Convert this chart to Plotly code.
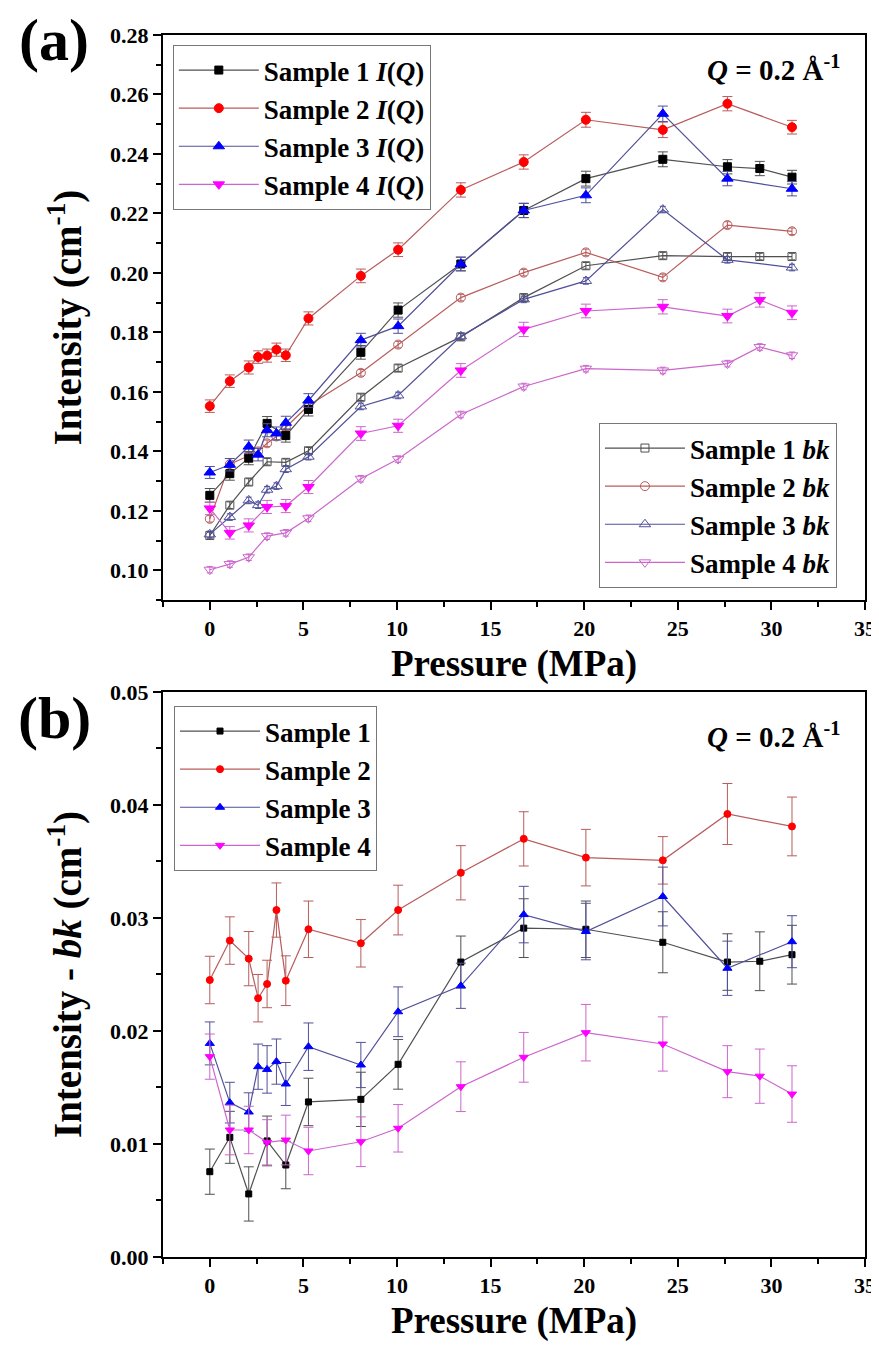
import plotly.graph_objects as go

# ---------------- data ----------------
P_16 = [0, 1.07, 2.08, 2.58, 3.06, 3.56, 4.06, 5.27, 8.07, 10.06, 13.41, 16.77, 20.09, 24.2, 27.65, 31.1]
P_15 = [0, 1.07, 2.08, 3.06, 4.06, 5.27, 8.07, 10.06, 13.41, 16.77, 20.09, 24.2, 27.65, 29.38, 31.1]

# panel (a): I(Q)
s1_iq = [0.1252, 0.1325, 0.1377, 0.1494, 0.1453, 0.1541, 0.1733, 0.1875, 0.2030, 0.2210, 0.2317, 0.2382, 0.2357, 0.2351, 0.2322]
s2_iq = [0.1552, 0.1636, 0.1682, 0.1717, 0.1722, 0.1742, 0.1723, 0.1847, 0.1990, 0.2078, 0.2279, 0.2373, 0.2515, 0.2481, 0.2569, 0.2490]
s3_iq = [0.1329, 0.1355, 0.1416, 0.1389, 0.1471, 0.1460, 0.1496, 0.1571, 0.1774, 0.1821, 0.2030, 0.2210, 0.2261, 0.2535, 0.2317, 0.2283]
s4_iq = [0.1208, 0.1126, 0.1151, 0.1213, 0.1216, 0.1280, 0.1460, 0.1486, 0.1672, 0.1810, 0.1872, 0.1886, 0.1855, 0.1909, 0.1866]
s1_iq_err = [0.0023, 0.0022, 0.0022, 0.0023, 0.0022, 0.0022, 0.0023, 0.0024, 0.0023, 0.0024, 0.0025, 0.0025, 0.0024, 0.0024, 0.0023]
s2_iq_err = [0.0021, 0.0021, 0.0022, 0.0021, 0.0022, 0.0022, 0.0021, 0.0022, 0.0023, 0.0023, 0.0024, 0.0024, 0.0025, 0.0026, 0.0024, 0.0023]
s3_iq_err = [0.0020, 0.0021, 0.0022, 0.0021, 0.0022, 0.0022, 0.0022, 0.0023, 0.0023, 0.0024, 0.0023, 0.0024, 0.0025, 0.0026, 0.0024, 0.0024]
s4_iq_err = [0.0021, 0.0021, 0.0022, 0.0022, 0.0022, 0.0022, 0.0023, 0.0022, 0.0023, 0.0024, 0.0023, 0.0024, 0.0023, 0.0024, 0.0023]

# panel (a): bk
s1_bk = [0.1117, 0.1219, 0.1297, 0.1365, 0.1363, 0.1402, 0.1582, 0.1680, 0.1785, 0.1917, 0.2024, 0.2058, 0.2055, 0.2055, 0.2055]
s2_bk = [0.1173, 0.1357, 0.1385, 0.1400, 0.1427, 0.1450, 0.1481, 0.1554, 0.1664, 0.1759, 0.1917, 0.2001, 0.2069, 0.1985, 0.2161, 0.2140]
s3_bk = [0.1121, 0.1179, 0.1235, 0.1219, 0.1271, 0.1283, 0.1340, 0.1382, 0.1551, 0.1588, 0.1787, 0.1911, 0.1973, 0.2213, 0.2044, 0.2018]
s4_bk = [0.1002, 0.1021, 0.1044, 0.1115, 0.1126, 0.1175, 0.1308, 0.1374, 0.1524, 0.1618, 0.1678, 0.1672, 0.1695, 0.1751, 0.1723]
s1_bk_err = [0.0011, 0.0011, 0.0011, 0.0011, 0.0011, 0.0011, 0.0011, 0.0011, 0.0011, 0.0011, 0.0011, 0.0011, 0.0011, 0.0011, 0.0011]
s2_bk_err = [0.0011, 0.0011, 0.0011, 0.0011, 0.0011, 0.0011, 0.0011, 0.0011, 0.0011, 0.0011, 0.0011, 0.0011, 0.0011, 0.0011, 0.0011, 0.0011]
s3_bk_err = [0.0011, 0.0011, 0.0011, 0.0011, 0.0011, 0.0011, 0.0011, 0.0011, 0.0011, 0.0011, 0.0011, 0.0011, 0.0011, 0.0011, 0.0011, 0.0011]
s4_bk_err = [0.0011, 0.0011, 0.0011, 0.0011, 0.0011, 0.0011, 0.0011, 0.0011, 0.0011, 0.0011, 0.0011, 0.0011, 0.0011, 0.0011, 0.0011]

# panel (b): Intensity - bk
s1_diff = [0.00755, 0.01059, 0.00558, 0.01027, 0.00814, 0.01372, 0.01395, 0.01705, 0.0261, 0.0291, 0.0290, 0.02785, 0.0261, 0.02617, 0.02675]
s2_diff = [0.02451, 0.0280, 0.0264, 0.0229, 0.02416, 0.0307, 0.02445, 0.0290, 0.02776, 0.0307, 0.0340, 0.0370, 0.03534, 0.0351, 0.0392, 0.0381]
s3_diff = [0.0189, 0.01366, 0.01283, 0.01684, 0.0166, 0.01729, 0.01531, 0.01861, 0.01699, 0.0217, 0.0240, 0.0303, 0.0288, 0.0319, 0.02555, 0.0279]
s4_diff = [0.01773, 0.01124, 0.01124, 0.01015, 0.01035, 0.00938, 0.0102, 0.01139, 0.01507, 0.01767, 0.01985, 0.01885, 0.0164, 0.0160, 0.01442]
s1_diff_err = [0.0020, 0.0023, 0.0024, 0.0022, 0.0021, 0.0021, 0.0024, 0.0022, 0.0023, 0.0026, 0.0025, 0.0027, 0.0025, 0.0026, 0.0026]
s2_diff_err = [0.0021, 0.0021, 0.0024, 0.0021, 0.0021, 0.0024, 0.0022, 0.0025, 0.0021, 0.0022, 0.0024, 0.0024, 0.0025, 0.0021, 0.0027, 0.0026]
s3_diff_err = [0.0019, 0.0018, 0.0017, 0.0020, 0.0021, 0.0020, 0.0019, 0.0021, 0.0020, 0.0022, 0.0020, 0.0025, 0.0025, 0.0026, 0.0024, 0.0023]
s4_diff_err = [0.0020, 0.0022, 0.0021, 0.0020, 0.0022, 0.0021, 0.0022, 0.0021, 0.0022, 0.0022, 0.0025, 0.0024, 0.0023, 0.0024, 0.0025]

x_tickvals = [0, 5, 10, 15, 20, 25, 30, 35]
x_ticktext = ["0", "5", "10", "15", "20", "25", "30", "35"]
ya_tickvals = [0.10, 0.12, 0.14, 0.16, 0.18, 0.20, 0.22, 0.24, 0.26, 0.28]
ya_ticktext = ["0.10", "0.12", "0.14", "0.16", "0.18", "0.20", "0.22", "0.24", "0.26", "0.28"]
yb_tickvals = [0.00, 0.01, 0.02, 0.03, 0.04, 0.05]
yb_ticktext = ["0.00", "0.01", "0.02", "0.03", "0.04", "0.05"]

# ---------------- styling ----------------
FONT = "Liberation Serif"
MARK = ["#000000", "#ff0000", "#0000ff", "#ff00ff"]
LINE = ["#505050", "#b85c5c", "#50509a", "#cc66cc"]


def b(t):
    return f"<b>{t}</b>"


fig = go.Figure()


def add(x, y, err, name, i, symbol, size, xa, ya, legend, group, cap, open_=False):
    fig.add_trace(go.Scatter(
        x=x, y=y, name=b(name), mode="lines+markers",
        xaxis=xa, yaxis=ya, legend=legend, legendgroup=group,
        line=dict(color=LINE[i], width=1.2),
        marker=dict(symbol=symbol, size=size,
                    color=LINE[i] if open_ else MARK[i],
                    line=dict(width=1, color=LINE[i] if open_ else MARK[i])),
        error_y=dict(type="data", array=err, visible=True,
                     color=LINE[i], thickness=1, width=cap),
    ))


iq_sets = [(P_15, s1_iq, s1_iq_err), (P_16, s2_iq, s2_iq_err), (P_16, s3_iq, s3_iq_err), (P_15, s4_iq, s4_iq_err)]
bk_sets = [(P_15, s1_bk, s1_bk_err), (P_16, s2_bk, s2_bk_err), (P_16, s3_bk, s3_bk_err), (P_15, s4_bk, s4_bk_err)]
df_sets = [(P_15, s1_diff, s1_diff_err), (P_16, s2_diff, s2_diff_err), (P_16, s3_diff, s3_diff_err), (P_15, s4_diff, s4_diff_err)]

filled = ["square", "circle", "triangle-up", "triangle-down"]
filled_sz = [8, 9, 10, 10]
opened = ["square-open", "circle-open", "triangle-up-open", "triangle-down-open"]

for i, (x, y, e) in enumerate(bk_sets):
    add(x, y, e, f"Sample {i+1} <i>bk</i>", i, opened[i], filled_sz[i], "x", "y", "legend2", f"bk{i}", 3, open_=True)
for i, (x, y, e) in enumerate(iq_sets):
    add(x, y, e, f"Sample {i+1} <i>I</i>(<i>Q</i>)", i, filled[i], filled_sz[i], "x", "y", "legend", f"iq{i}", 5)
for i, (x, y, e) in enumerate(df_sets):
    add(x, y, e, f"Sample {i+1}", i, filled[i], [6, 7, 8, 8][i], "x2", "y2", "legend3", f"df{i}", 5)

tickfont = dict(family=FONT, size=22, color="black")
xtitlefont = dict(family=FONT, size=37, color="black")
ytitlefont = dict(family=FONT, size=39, color="black")
common_ax = dict(showline=True, linewidth=2, linecolor="black", mirror=True, automargin=False,
                 ticks="outside", ticklen=8, tickwidth=1.5, tickcolor="black",
                 showgrid=False, zeroline=False, tickfont=tickfont)
xax = dict(common_ax, range=[-2.5, 35], tickvals=x_tickvals, ticktext=[b(t) for t in x_ticktext],
           minor=dict(tickvals=[-2.5, 2.5, 7.5, 12.5, 17.5, 22.5, 27.5, 32.5], ticklen=5, ticks="outside",
                      tickcolor="black", tickwidth=1.5),
           title=dict(text=b("Pressure (MPa)"), font=xtitlefont, standoff=10))

legfont = dict(family=FONT, size=27, color="black")
legbase = dict(font=legfont, bgcolor="rgba(255,255,255,0)", bordercolor="#777777", borderwidth=1,
               itemwidth=80, tracegroupgap=1, xanchor="left", yanchor="top", traceorder="normal")

# the page adds an 8 px body margin, so the figure is 8 px smaller than the window
fig.update_layout(
    width=871, height=1337,
    margin=dict(l=155, r=14, t=27, b=88),
    paper_bgcolor="white", plot_bgcolor="white",
    font=dict(family=FONT, color="black"),
    xaxis=dict(xax, domain=[0, 1], anchor="y"),
    yaxis=dict(common_ax, domain=[0.5376, 1], anchor="x", range=[0.09, 0.28],
               tickvals=ya_tickvals, ticktext=[b(t) for t in ya_ticktext],
               minor=dict(dtick=0.01, tick0=0.09, ticklen=5, ticks="outside", tickcolor="black", tickwidth=1.5),
               title=dict(text=b("Intensity (cm<sup>-1</sup>)"), font=ytitlefont, standoff=16)),
    xaxis2=dict(xax, domain=[0, 1], anchor="y2"),
    yaxis2=dict(common_ax, domain=[0, 0.4624], anchor="x2", range=[0, 0.05],
                tickvals=yb_tickvals, ticktext=[b(t) for t in yb_ticktext],
                minor=dict(dtick=0.005, tick0=0, ticklen=5, ticks="outside", tickcolor="black", tickwidth=1.5),
                title=dict(text=b("Intensity - <i>bk</i> (cm<sup>-1</sup>)"), font=ytitlefont, standoff=16)),
    legend=dict(legbase, x=0.014, y=0.9918),
    legend2=dict(legbase, x=0.621, y=0.6825),
    legend3=dict(legbase, x=0.0157, y=0.4509),
    showlegend=True,
)

qtext = "<b><i>Q</i> = 0.2 Å<sup>-1</sup></b>"
fig.add_annotation(text=qtext, xref="paper", yref="paper", x=0.967, y=0.973, xanchor="right", yanchor="middle",
                   showarrow=False, font=dict(family=FONT, size=29, color="black"))
fig.add_annotation(text=qtext, xref="paper", yref="paper", x=0.967, y=0.427, xanchor="right", yanchor="middle",
                   showarrow=False, font=dict(family=FONT, size=29, color="black"))
fig.add_annotation(text="<b>(a)</b>", xref="paper", yref="paper", x=-0.155, y=0.9955, xanchor="center", yanchor="middle",
                   showarrow=False, font=dict(family=FONT, size=60, color="black"))
fig.add_annotation(text="<b>(b)</b>", xref="paper", yref="paper", x=-0.155, y=0.441, xanchor="center", yanchor="middle",
                   showarrow=False, font=dict(family=FONT, size=60, color="black"))

fig.write_html("out.html")
